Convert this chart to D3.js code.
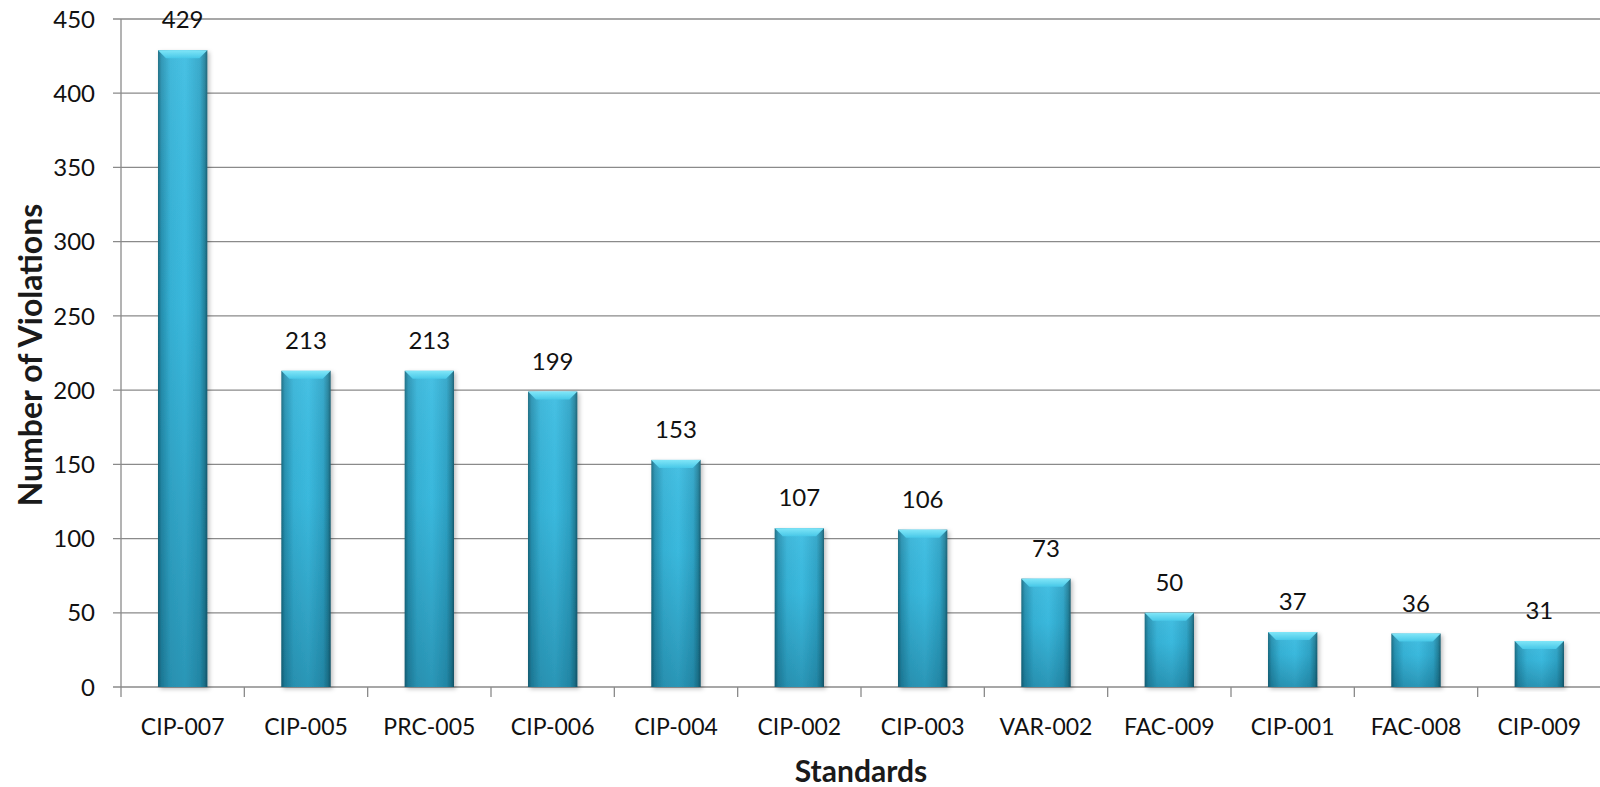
<!DOCTYPE html>
<html><head><meta charset="utf-8">
<script src="https://cdn.jsdelivr.net/npm/d3@7"></script>
<style>
html,body{margin:0;padding:0;background:#fff;}
text{font-family:Lato,"Open Sans",sans-serif;fill:#111;}
</style></head>
<body><svg id="c" width="1600" height="787"></svg>
<script>
const categories = ["CIP-007","CIP-005","PRC-005","CIP-006","CIP-004","CIP-002","CIP-003","VAR-002","FAC-009","CIP-001","FAC-008","CIP-009"];
const violations = [429,213,213,199,153,107,106,73,50,37,36,31];
const yTicks = [0,50,100,150,200,250,300,350,400,450];
const xTitle = "Standards";
const yTitle = "Number of Violations";

(function(){
const svg = d3.select("#c");
const W = 1600, H = 787;
const mLeft = 121, mRight = 1601, mTop = 19, mBottom = 687;

const x = d3.scaleBand().domain(categories).range([mLeft, mRight]).paddingInner(0.6).paddingOuter(0.3);
const y = d3.scaleLinear().domain([0,450]).range([mBottom, mTop]);

const defs = svg.append("defs");
const gh = defs.append("linearGradient").attr("id","gh").attr("x1","0").attr("x2","1").attr("y1","0").attr("y2","0");
[[0,"#186a80"],[0.07,"#2792b2"],[0.25,"#37b4d8"],[0.55,"#3cbde2"],[0.85,"#2fa5c8"],[0.95,"#22819b"],[1,"#165b6f"]].forEach(s=>gh.append("stop").attr("offset",s[0]).attr("stop-color",s[1]));
const gv = defs.append("linearGradient").attr("id","gv").attr("x1","0").attr("x2","0").attr("y1","0").attr("y2","1");
[[0,"rgba(255,255,255,0.06)"],[0.4,"rgba(0,50,70,0.03)"],[1,"rgba(0,50,70,0.28)"]].forEach(s=>gv.append("stop").attr("offset",s[0]).attr("stop-color",s[1]));
const gt = defs.append("linearGradient").attr("id","gt").attr("x1","0").attr("x2","0").attr("y1","0").attr("y2","1");
[[0,"#80e6f8"],[1,"#48c8e8"]].forEach(s=>gt.append("stop").attr("offset",s[0]).attr("stop-color",s[1]));
const sh = defs.append("filter").attr("id","sh").attr("x","-20%").attr("y","-5%").attr("width","150%").attr("height","115%");
sh.append("feDropShadow").attr("dx",2).attr("dy",2).attr("stdDeviation",2).attr("flood-color","#000").attr("flood-opacity",0.25);

svg.append("g").selectAll("line").data(yTicks).join("line")
  .attr("x1", mLeft-8).attr("x2", W).attr("y1", d=>y(d)).attr("y2", d=>y(d))
  .attr("stroke","#8a8a8a").attr("stroke-width",1.3);
svg.append("line").attr("x1",mLeft).attr("x2",mLeft).attr("y1",mTop).attr("y2",mBottom).attr("stroke","#8a8a8a").attr("stroke-width",1.3);
const half = x.step()*x.paddingInner()/2;
const bounds = categories.map(c=>x(c)-half).concat([x(categories[categories.length-1])+x.bandwidth()+half]);
svg.append("g").selectAll("line").data(bounds).join("line")
  .attr("x1",d=>d).attr("x2",d=>d).attr("y1",mBottom).attr("y2",mBottom+10)
  .attr("stroke","#8a8a8a").attr("stroke-width",1.3);

svg.append("g").selectAll("text").data(yTicks).join("text")
  .attr("x", 95).attr("y", d=>y(d)).attr("dy","0.36em").attr("text-anchor","end")
  .style("font-size","24px").text(d=>d);

const bars = svg.append("g").selectAll("g").data(categories).join("g").attr("filter","url(#sh)");
bars.append("rect").attr("x",c=>x(c)).attr("width",x.bandwidth())
  .attr("y",(c,i)=>y(violations[i])).attr("height",(c,i)=>y(0)-y(violations[i])).attr("fill","url(#gh)");
bars.append("rect").attr("x",c=>x(c)).attr("width",x.bandwidth())
  .attr("y",(c,i)=>y(violations[i])).attr("height",(c,i)=>y(0)-y(violations[i])).attr("fill","url(#gv)");
bars.append("path").attr("d",(c,i)=>{
  const x0=x(c), x1=x0+x.bandwidth(), t=y(violations[i]), b=8;
  return `M${x0},${t}L${x1},${t}L${x1-b},${t+b}L${x0+b},${t+b}Z`;
}).attr("fill","url(#gt)");

svg.append("g").selectAll("text").data(categories).join("text")
  .attr("x",c=>x(c)+x.bandwidth()/2).attr("y",(c,i)=>y(violations[i])-22)
  .attr("text-anchor","middle").style("font-size","24px").text((c,i)=>violations[i]);

svg.append("g").selectAll("text").data(categories).join("text")
  .attr("x",c=>x(c)+x.bandwidth()/2).attr("y",735)
  .attr("text-anchor","middle").style("font-size","23px").text(c=>c);

svg.append("text").attr("x",(mLeft+mRight)/2).attr("y",782).attr("text-anchor","middle")
  .style("font-size","30px").style("font-weight","bold").style("fill","#1a1a1a").text(xTitle);
svg.append("text").attr("transform","translate(42,355) rotate(-90)").attr("text-anchor","middle")
  .style("font-size","32px").style("font-weight","bold").style("fill","#1a1a1a").text(yTitle);
})();
</script></body></html>
